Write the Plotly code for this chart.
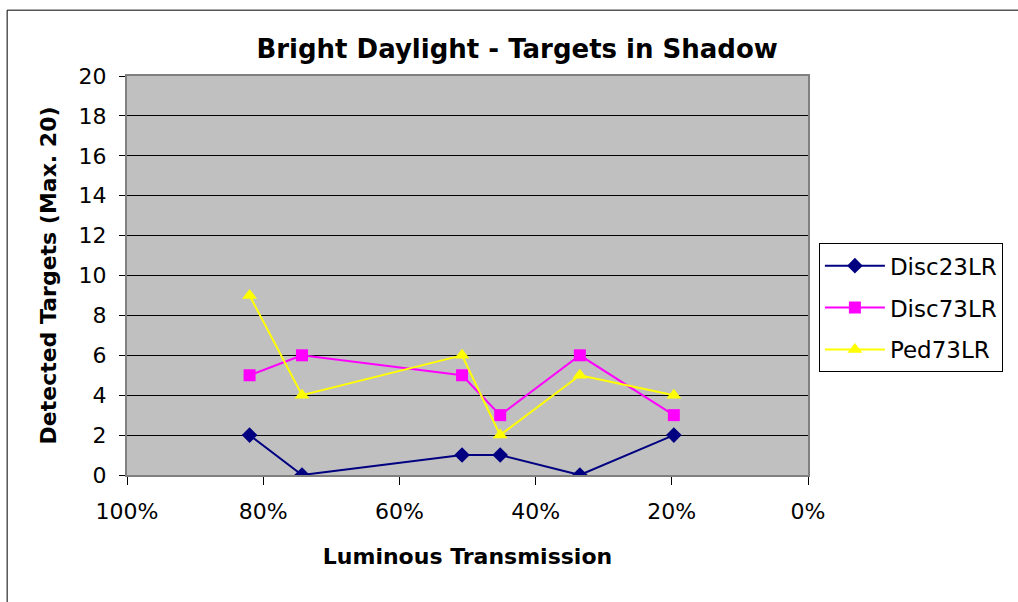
import plotly.graph_objects as go

transmission = [82.0, 74.3, 50.8, 45.2, 33.5, 19.7]
disc23lr = [2, 0, 1, 1, 0, 2]
disc73lr = [5, 6, 5, 3, 6, 3]
ped73lr = [9, 4, 6, 2, 5, 4]

x_ticks = [100, 80, 60, 40, 20, 0]
x_labels = ["100%", "80%", "60%", "40%", "20%", "0%"]

series = [
    ("Disc23LR", disc23lr, "#000080", "diamond", 12),
    ("Disc73LR", disc73lr, "#FF00FF", "square", 12),
    ("Ped73LR", ped73lr, "#FFFF00", "triangle-up", 13),
]

fig = go.Figure()
for i, (name, vals, color, symbol, size) in enumerate(series):
    fig.add_trace(go.Scatter(
        x=transmission, y=vals, name=name, mode="lines+markers",
        legendgroup=f"g{i}",
        line=dict(color=color, width=2),
        marker=dict(symbol=symbol, size=size, color=color),
    ))

FONT = "DejaVu Sans"
axis_font = dict(family=FONT, size=22, color="black")

fig.update_layout(
    width=1018, height=602,
    margin=dict(l=127, r=210, t=76, b=127),
    paper_bgcolor="white",
    plot_bgcolor="#C0C0C0",
    title=dict(
        text="<b>Bright Daylight - Targets in Shadow</b>",
        x=0.508, xanchor="center", y=0.918, yanchor="middle",
        font=dict(family=FONT, size=26, color="black"),
    ),
    xaxis=dict(
        range=[100, 0], tickmode="array", tickvals=x_ticks, ticktext=x_labels,
        showgrid=False, zeroline=False,
        ticks="outside", ticklen=8, tickcolor="black", ticklabelstandoff=8,
        showline=True, linecolor="#808080", linewidth=2, mirror=True,
        tickfont=axis_font,
        title=dict(text="<b>Luminous Transmission</b>", standoff=25,
                   font=dict(family=FONT, size=22, color="black")),
    ),
    yaxis=dict(
        range=[0, 20], dtick=2,
        showgrid=True, gridcolor="black", gridwidth=1, zeroline=False,
        ticks="outside", ticklen=6, tickcolor="black", ticklabelstandoff=8,
        showline=True, linecolor="#808080", linewidth=2, mirror=True,
        tickfont=axis_font,
        title=dict(text="<b>Detected Targets (Max. 20)</b>", standoff=16,
                   font=dict(family=FONT, size=22, color="black")),
    ),
    legend=dict(
        x=1.016, y=0.581, xanchor="left", yanchor="top",
        bgcolor="white", bordercolor="black", borderwidth=1,
        font=dict(family=FONT, size=23, color="black"),
        tracegroupgap=9, traceorder="grouped", itemwidth=60,
    ),
    shapes=[dict(
        type="rect", xref="paper", yref="paper",
        x0=-0.176, x1=1.32, y0=-0.34, y1=1.165,
        line=dict(color="black", width=1), fillcolor="rgba(0,0,0,0)", layer="below",
    )],
)

fig.write_html("out.html", config={"displayModeBar": False},
               post_script="document.body.style.margin='0';")
